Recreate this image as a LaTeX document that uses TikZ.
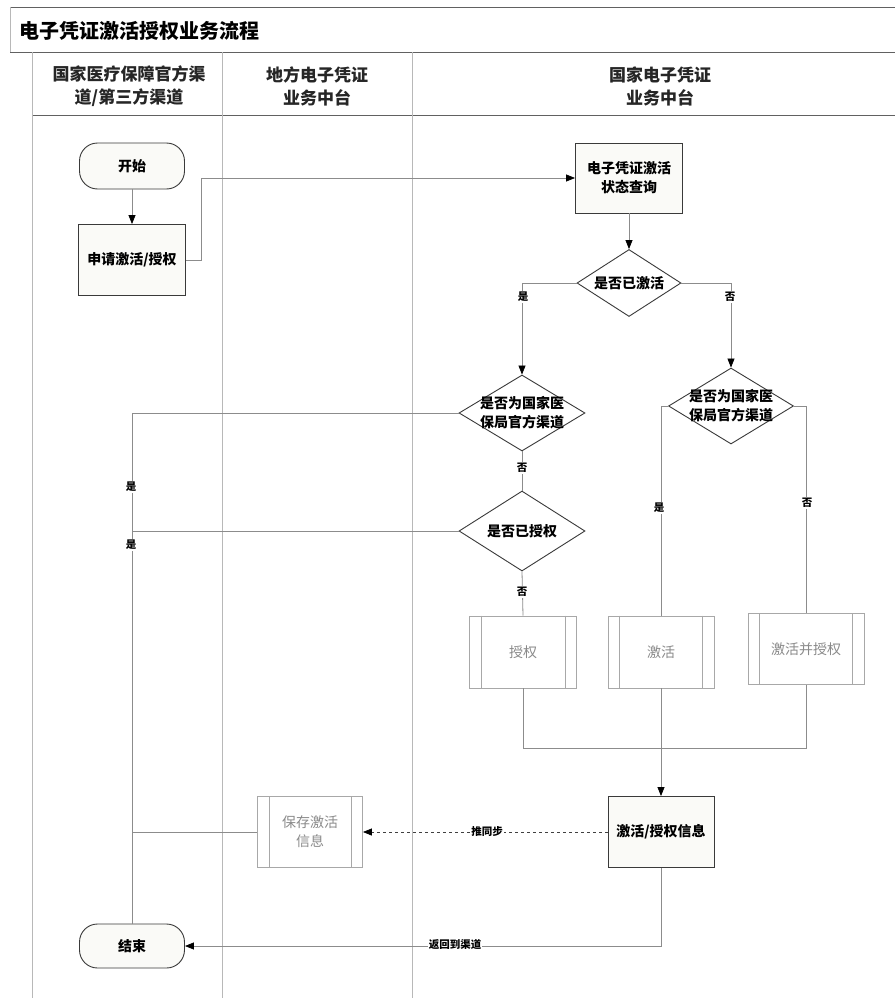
\documentclass[tikz,border=0pt]{standalone}
\usepackage{fontspec}
\setmainfont{Noto Sans CJK SC}
\usetikzlibrary{shapes.geometric,arrows.meta}
\definecolor{lane}{HTML}{B8B8B8}
\definecolor{conn}{HTML}{8C8C8C}
\definecolor{edge}{HTML}{3A3A3A}
\definecolor{faint}{HTML}{A8A8A8}
\definecolor{fainttext}{HTML}{8A8A8A}
\definecolor{nodefill}{HTML}{FAFAF7}
\begin{document}
\begin{tikzpicture}[x=1pt,y=-1pt,
  lanel/.style={draw=lane,line width=0.7pt},
  frame/.style={draw=edge!80,line width=0.9pt},
  hdr/.style={font=\fontsize{17}{23}\selectfont\bfseries,align=center,text=black!85},
  term/.style={draw=edge,line width=0.9pt,rectangle,rounded corners=18pt,minimum width=105pt,minimum height=46pt,font=\fontsize{14}{17}\selectfont\bfseries,fill=nodefill},
  proc/.style={draw=edge,line width=0.9pt,rectangle,minimum width=107pt,minimum height=71pt,align=center,font=\fontsize{14}{19}\selectfont\bfseries,fill=nodefill},
  pproc/.style={draw=faint,line width=0.8pt,rectangle,minimum width=107pt,minimum height=72pt,align=center,font=\fontsize{14}{19}\selectfont,text=fainttext,fill=white},
  dia/.style={draw=edge,line width=0.9pt,diamond,inner sep=0pt,fill=white},
  dtext/.style={align=center,font=\fontsize{14}{19}\selectfont\bfseries,inner sep=0pt},
  conn/.style={draw=conn,line width=0.8pt},
  arr/.style={conn,-{Triangle[length=9pt,width=7pt,black]}},
  lbl/.style={fill=white,inner sep=1pt,font=\fontsize{10.5}{12}\selectfont\bfseries}
]
\useasboundingbox[fill=white] (0,0) rectangle (895,998);

% pool frame
\draw[frame] (10,7) -- (895,7);
\draw[frame] (10,52) -- (895,52);
\draw[lanel] (10,7) -- (10,52);
\draw[frame] (32,115) -- (895,115);
\draw[lanel] (32,52) -- (32,998);
\draw[lanel] (222,52) -- (222,998);
\draw[lanel] (412,52) -- (412,998);

\node[anchor=west,font=\fontsize{20}{24}\selectfont\bfseries] (title) at (16,31) {电子凭证激活授权业务流程};
\node[hdr] (h1) at (129,86) {国家医疗保障官方渠\\道/第三方渠道};
\node[hdr] (h2) at (317,86) {地方电子凭证\\业务中台};
\node[hdr] (h3) at (660,86) {国家电子凭证\\业务中台};

% nodes
\node[term] (start) at (132,166) {开始};
\node[proc] (apply) at (132,260) {申请激活/授权};
\node[proc,minimum height=70pt] (query) at (629,178) {电子凭证激活\\状态查询};
\node[dia,minimum width=104pt,minimum height=67pt] (d1) at (629,283) {};
\node[dtext] (d1t) at (d1) {是否已激活};
\node[dia,minimum width=126pt,minimum height=76pt] (d2) at (522,413) {};
\node[dtext] (d2t) at (d2) {是否为国家医\\保局官方渠道};
\node[dia,minimum width=126pt,minimum height=80pt] (d3) at (522,531) {};
\node[dtext] (d3t) at (d3) {是否已授权};
\node[dia,minimum width=125pt,minimum height=76pt] (d4) at (731,406) {};
\node[dtext] (d4t) at (d4) {是否为国家医\\保局官方渠道};

\node[pproc] (sq) at (523,652) {授权};
\node[pproc,minimum width=106pt] (jh) at (661,652) {激活};
\node[pproc,minimum width=116pt,minimum height=71pt] (jhsq) at (806,649) {激活并授权};
\node[proc,minimum width=106pt] (info) at (661,832) {激活/授权信息};
\node[pproc,minimum width=105pt,minimum height=71pt] (save) at (310,832) {保存激活\\信息};
\node[term,minimum height=44pt] (end) at (132,946) {结束};

% inner lines of predefined process boxes
\foreach \n in {sq,jh,jhsq,save}{
  \draw[draw=faint,line width=0.6pt] ([xshift=12pt]\n.north west) -- ([xshift=12pt]\n.south west);
  \draw[draw=faint,line width=0.6pt] ([xshift=-12pt]\n.north east) -- ([xshift=-12pt]\n.south east);
}

% connectors
\draw[arr] (start) -- (apply);
\draw[arr] (apply.east) -- ++(15,0) |- (query.west);
\draw[arr] (query) -- (d1);
\draw[arr] (d1.west) -| (d2.north);
\draw[arr] (d1.east) -| (d4.north);
\draw[conn] (d2.south) -- (d3.north);
\draw[conn] (d3.south) -- (sq.north);
\draw[conn] (d4.west) -| (jh.north);
\draw[conn] (d4.east) -| (jhsq.north);
\draw[conn] (d2.west) -| (end.north);
\coordinate (j2) at (end.north |- d3.west);
\draw[conn] (d3.west) -- (j2);
\coordinate (j3) at (end.north |- save.west);
\draw[conn] (save.west) -- (j3);
\coordinate (bar) at (0,748);
\draw[conn] (sq.south) -- (sq.south |- bar) -- (jhsq.south |- bar) -- (jhsq.south);
\draw[arr] (jh.south) -- (info.north);
\draw[arr,dashed,draw=black!75] (info.west) -- (save.east);
\draw[arr] (info.south) |- (end.east);

% labels
\node[lbl] (l1) at (523,297) {是};
\node[lbl] (l2) at (730,297) {否};
\node[lbl] (l3) at (522,468) {否};
\node[lbl] (l4) at (522,592) {否};
\node[lbl] (l5) at (659,508) {是};
\node[lbl] (l6) at (807,503) {否};
\node[lbl] (l7) at (131,487) {是};
\node[lbl] (l8) at (131,545) {是};
\node[lbl] (l9) at (487,832) {推同步};
\node[lbl] (l10) at (455,945) {返回到渠道};
\end{tikzpicture}
\end{document}
